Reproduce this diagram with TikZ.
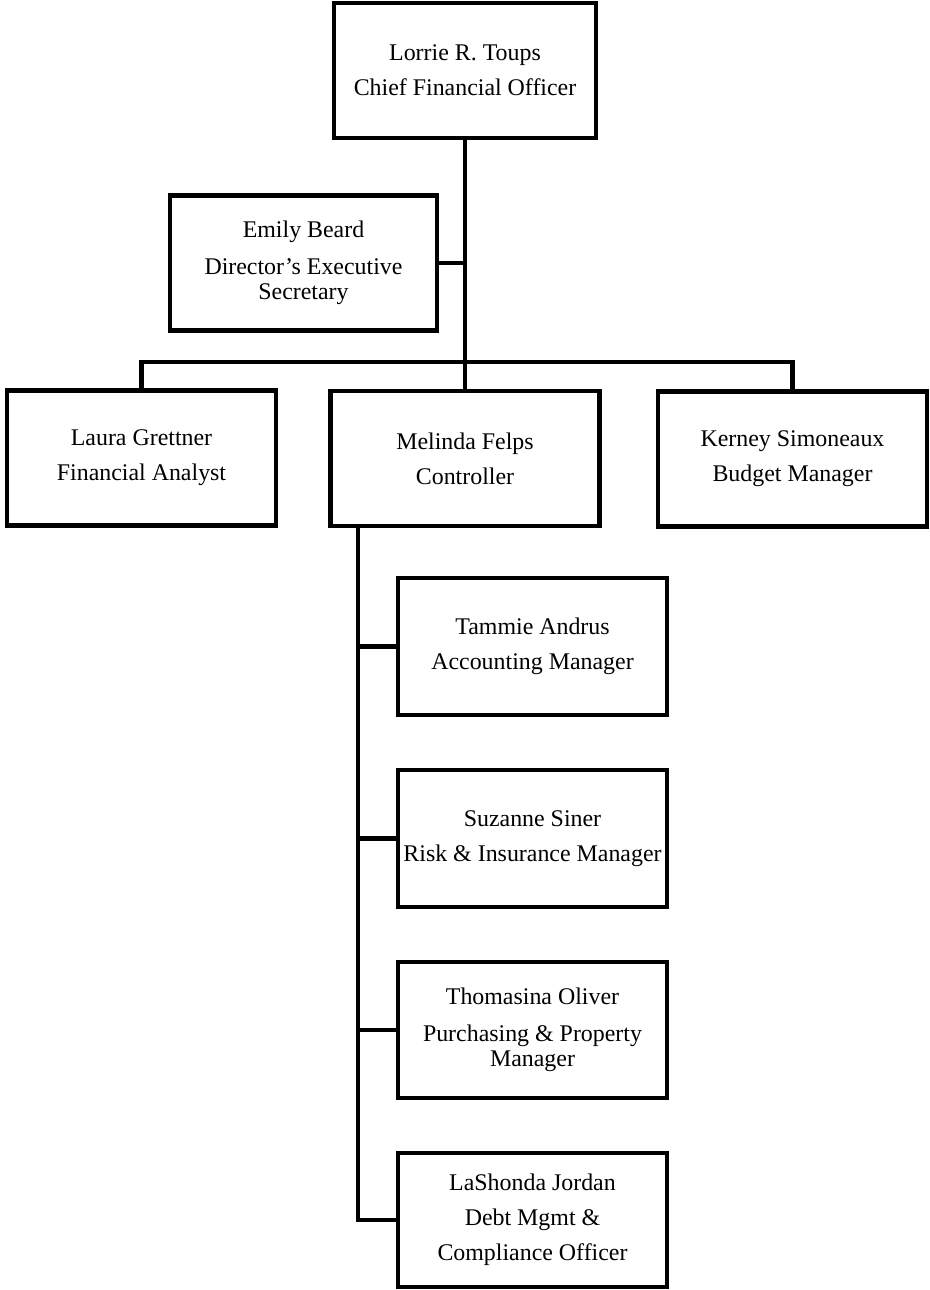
\documentclass[tikz,border=0pt]{standalone}
\usepackage{fontspec}
\setmainfont{Liberation Serif}
\usetikzlibrary{positioning}

\begin{document}
\begin{tikzpicture}[x=0.02cm, y=-0.02cm]
  \tikzstyle{person} = [draw, line width = 2.8pt, align = center, inner sep = 0pt,
                        minimum width = 5.38cm, minimum height = 2.7cm,
                        font = \fontsize{13.6}{20}\selectfont]
  \tikzstyle{link} = [line width = 2.8pt]

  \useasboundingbox (0, 0) rectangle (929, 1290);

  % Draw top level
  \node[person, minimum width = 5.24cm] (cfo) at (465, 70.5)
    {Lorrie R. Toups\\Chief Financial Officer};
  \node[person, minimum width = 5.34cm] (sec) at (303.5, 263)
    {Emily Beard\\[1pt]Director's Executive\\[-6pt]Secretary};

  % Draw second level
  \node[person] (analyst) at (141.5, 458) {Laura Grettner\\Financial Analyst};
  \node[person] (ctrl) at (465, 458.5) {Melinda Felps\\Controller};
  \node[person] (budget) at (792.5, 459) {Kerney Simoneaux\\Budget Manager};

  % Draw controller staff
  \node[person, minimum height = 2.74cm] (acct) at (532.5, 646.5)
    {Tammie Andrus\\Accounting Manager};
  \node[person, minimum height = 2.74cm] (risk) at (532.5, 838.5)
    {Suzanne Siner\\Risk \& Insurance Manager};
  \node[person, minimum height = 2.72cm] (purch) at (532.5, 1030)
    {Thomasina Oliver\\[1pt]Purchasing \& Property\\[-6pt]Manager};
  \node[person, minimum height = 2.68cm] (debt) at (532.5, 1220)
    {LaShonda Jordan\\Debt Mgmt \&\\Compliance Officer};

  % Connections
  \coordinate (bus) at (465, 362);
  \coordinate (spine) at (358, 526);
  \draw[link] (cfo.south) -- (bus) -- (ctrl.north);
  \draw[link] (sec.east) -- (sec.east -| bus);
  \draw[link] (analyst.north) |- (bus) -| (budget.north);
  \foreach \n in {acct, risk, purch, debt}
    \draw[link] (spine) |- (\n.west);

\end{tikzpicture}
\end{document}
